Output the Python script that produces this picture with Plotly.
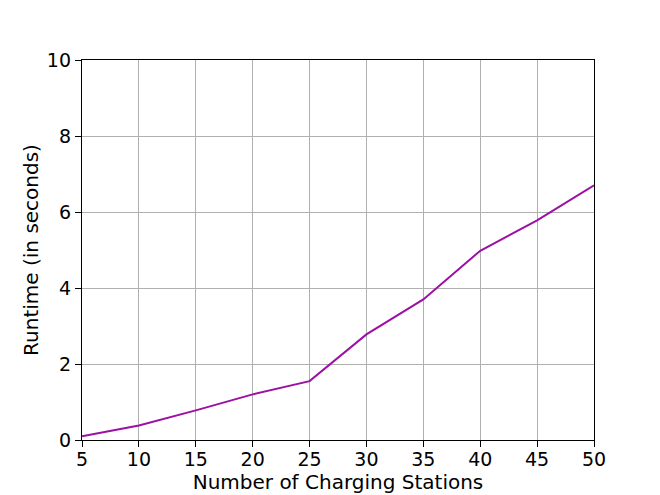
import plotly.graph_objects as go

stations = [5, 10, 15, 20, 25, 30, 35, 40, 45, 50]
runtime = [0.10, 0.38, 0.78, 1.20, 1.55, 2.78, 3.70, 4.98, 5.78, 6.70]
x_ticks = [5, 10, 15, 20, 25, 30, 35, 40, 45, 50]
y_ticks = [0, 2, 4, 6, 8, 10]

fig = go.Figure()
fig.add_trace(go.Scatter(x=stations, y=runtime, mode="lines",
                         line=dict(color="#9c10a4", width=2)))

axis_common = dict(showgrid=True, gridcolor="#b0b0b0", gridwidth=1,
                   showline=True, linecolor="black", linewidth=1.3, mirror=True,
                   ticks="outside", ticklen=6, tickwidth=1.2, tickcolor="black",
                   zeroline=False,
                   tickfont=dict(family="DejaVu Sans", size=19, color="black"))

fig.update_layout(
    width=660, height=495,
    margin=dict(l=74, r=74, t=52, b=63),
    paper_bgcolor="white", plot_bgcolor="white",
    showlegend=False,
    font=dict(family="DejaVu Sans", color="black"),
    xaxis=dict(range=[5, 50], tickvals=x_ticks,
               title=dict(text="Number of Charging Stations", font=dict(size=20), standoff=0),
               automargin=False, ticklabelstandoff=-4,
               **axis_common),
    yaxis=dict(range=[0, 10], tickvals=y_ticks,
               title=dict(text="Runtime (in seconds)", font=dict(size=20), standoff=2),
               automargin=False,
               **axis_common),
)

fig.write_html("out.html")
